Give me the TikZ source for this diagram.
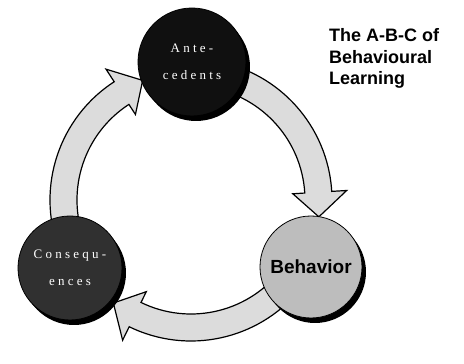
\documentclass[tikz,border=0pt]{standalone}
\usepackage{fontspec}
\usepackage{tikz}
\usetikzlibrary{shadows}
\newfontfamily\labelfont{Liberation Sans}
\newfontfamily\circlefont[LetterSpace=25]{Liberation Serif}
\definecolor{ringgray}{HTML}{DCDCDC}
\definecolor{antefill}{HTML}{101010}
\definecolor{consfill}{HTML}{303030}
\definecolor{behafill}{HTML}{BDBDBD}
% fat arrow along the ring: #1 start angle, #2 tip angle
\newcommand{\cyclearrow}[2]{%
  \draw[fatarrow] (#1:141) arc[start angle=#1, end angle={#2+11}, radius=141]
    -- ({#2+11}:156) -- (#2:129) -- ({#2+11}:102) -- ({#2+11}:114)
    arc[start angle={#2+11}, end angle=#1, radius=114] -- cycle;}
\tikzset{
  fatarrow/.style={fill=ringgray, draw=black, line width=1.2pt, line join=miter},
  stage/.style={circle, draw=black, line width=0.8pt, inner sep=0pt,
    drop shadow={shadow xshift=4pt, shadow yshift=-5pt, fill=black, opacity=1}},
  darktext/.style={text=white, align=center, font=\circlefont\fontsize{13}{27}\selectfont}
}
\begin{document}
\begin{tikzpicture}[line cap=round,x=1pt,y=1pt]
\useasboundingbox (-191,-164) rectangle (273,200);
\fill[white] (-191,-164) rectangle (273,200);
% arrows of the cycle
\cyclearrow{80}{-7.5}
\cyclearrow{-40}{-127}
\cyclearrow{200}{112}
% stages
\node[stage, fill=antefill, minimum size=108pt, darktext] (ante) at (1,138) {Ante-\\cedents};
\node[stage, fill=behafill, minimum size=102pt,
  font=\labelfont\bfseries\fontsize{19}{20}\selectfont] (beha) at (120,-67) {Behavior};
\node[stage, fill=consfill, minimum size=104pt, darktext] (cons) at (-121,-68) {Consequ-\\ences};
% title
\node[anchor=base west, inner sep=0pt, align=left,
  font=\labelfont\bfseries\fontsize{18}{21.5}\selectfont] (title) at (138,115)
  {The A-B-C of\\Behavioural\\Learning};
\end{tikzpicture}
\end{document}
